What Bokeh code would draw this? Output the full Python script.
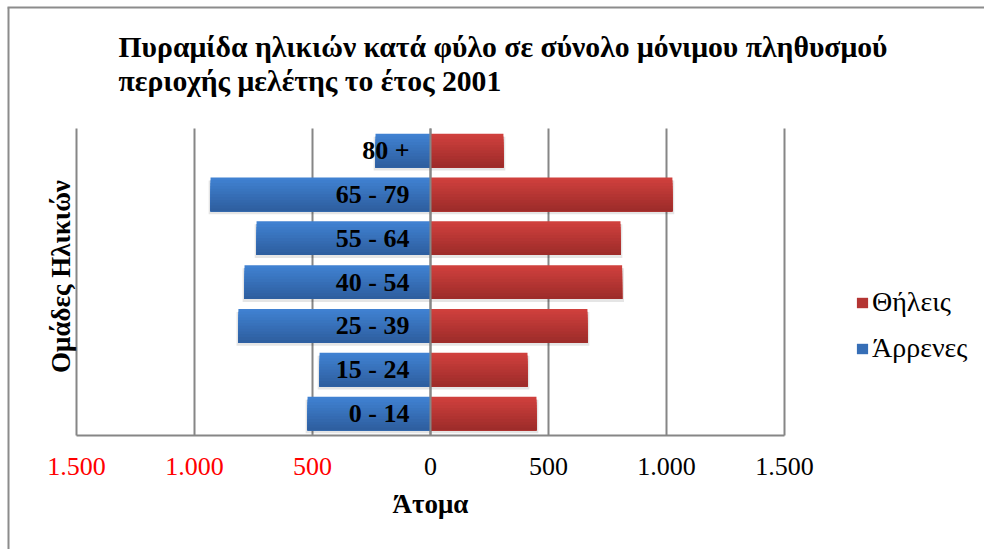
import math
from bokeh.plotting import figure
from bokeh.models import Legend, LegendItem, Range1d, BoxAnnotation
from bokeh.core.properties import value
from bokeh.embed import file_html
from bokeh.resources import INLINE

# ---- data ----
age_groups = ["0 - 14", "15 - 24", "25 - 39", "40 - 54", "55 - 64", "65 - 79", "80 +"]
males = [521, 470, 814, 788, 737, 932, 233]
females = [449, 411, 665, 812, 805, 1025, 309]
tick_values = [-1500, -1000, -500, 0, 500, 1000, 1500]
tick_labels = ["1.500", "1.000", "500", "0", "500", "1.000", "1.500"]
tick_colors = ["#FF0000", "#FF0000", "#FF0000", "#000000", "#000000", "#000000", "#000000"]
title_lines = ["Πυραμίδα ηλικιών κατά φύλο σε σύνολο μόνιμου πληθυσμού",
               "περιοχής μελέτης το έτος 2001"]
x_title = "Άτομα"
y_title = "Ομάδες Ηλικιών"
series_names = ["Θήλεις", "Άρρενες"]

# ---- styling / layout ----
FONT = "Liberation Serif"
BLUE_TOP, BLUE_BOT = (0x40, 0x81, 0xD1), (0x2E, 0x5F, 0xA0)
RED_TOP, RED_BOT = (0xCF, 0x40, 0x3D), (0x9E, 0x2C, 0x2A)
GRID = "#868686"
W, H = 984, 549

# pixel <-> data helpers (canvas = frame)
X0_PX = 430.0                 # pixel column of value 0
PX_PER_UNIT = 354.0 / 1500.0  # horizontal scale
CAT0_ROW = 413.0              # pixel row of first category centre
PITCH = 43.83                 # pixels per category


def dx(px):
    return (px - X0_PX) / PX_PER_UNIT


def dy(row):
    return (CAT0_ROW - row) / PITCH


n = len(age_groups)
pos = list(range(n))
y_lo, y_hi = -0.5, n - 0.5
x_lo, x_hi = tick_values[0], tick_values[-1]

p = figure(width=W, height=H, x_range=Range1d(dx(0), dx(W)), y_range=Range1d(dy(H), dy(0)),
           output_backend="svg", toolbar_location=None,
           min_border=0, min_border_left=0, min_border_right=0,
           min_border_top=0, min_border_bottom=0)
p.xaxis.visible = False
p.yaxis.visible = False
p.xgrid.visible = False
p.ygrid.visible = False
p.outline_line_color = None
p.background_fill_color = "white"
p.border_fill_color = "white"

# chart border (top + left)
p.segment(x0=[dx(8), dx(7)], x1=[dx(8), dx(W)], y0=[dy(H), dy(7)], y1=[dy(7), dy(7)],
          line_color="#8C8C8C", line_width=2)

# title
p.text(x=[dx(118)] * 2, y=[dy(46), dy(80)], text=title_lines,
       text_align="left", text_baseline="middle", text_font=value(FONT),
       text_font_size="29.7px", text_font_style="bold", text_color="black")

# vertical gridlines and bottom axis line
p.segment(x0=tick_values, x1=tick_values, y0=[y_lo] * len(tick_values), y1=[y_hi] * len(tick_values),
          line_color=GRID, line_width=2)
p.segment(x0=[x_lo], x1=[x_hi], y0=[y_lo], y1=[y_lo], line_color=GRID, line_width=2)

# bars with vertical gradient (overlapping layers, darker towards the bottom)
BAR_H = 0.77
K = 12
m_left = [-v for v in males]
zeros = [0] * n
shadow_dy = 3 / PITCH

p.hbar(y=[v - shadow_dy for v in pos], left=[v - 8 for v in m_left], right=[f + 8 for f in females],
       height=BAR_H, fill_color="#000000", fill_alpha=0.10, line_color=None)


def mix(a, b, t):
    return "#%02X%02X%02X" % tuple(round(a[i] + (b[i] - a[i]) * t) for i in range(3))


rm = rf = None
for k in range(K):
    t = k / (K - 1)
    hk = BAR_H * (K - k) / K
    ys = [v - BAR_H / 2 + hk / 2 for v in pos]
    r1 = p.hbar(y=ys, left=m_left, right=zeros, height=hk,
                fill_color=mix(BLUE_TOP, BLUE_BOT, t), line_color=None)
    r2 = p.hbar(y=ys, left=zeros, right=females, height=hk,
                fill_color=mix(RED_TOP, RED_BOT, t), line_color=None)
    if k == K // 2:
        rm, rf = r1, r2

# zero axis line
p.segment(x0=[0], x1=[0], y0=[y_lo], y1=[y_hi], line_color=GRID, line_width=2)

# category labels inside blue bars
p.text(x=zeros, y=pos, text=age_groups, x_offset=-21,
       text_align="right", text_baseline="middle",
       text_font=value(FONT), text_font_size="26px", text_font_style="bold",
       text_color="black")

# coloured tick labels
p.text(x=tick_values, y=[dy(466)] * len(tick_values), text=tick_labels, text_color=tick_colors,
       text_align="center", text_baseline="middle",
       text_font=value(FONT), text_font_size="26px")

# axis titles
p.text(x=[0], y=[dy(503)], text=[x_title], text_align="center", text_baseline="middle",
       text_font=value(FONT), text_font_size="27px", text_font_style="bold", text_color="black")
p.text(x=[dx(60)], y=[dy(276)], text=[y_title], angle=math.pi / 2,
       text_align="center", text_baseline="middle",
       text_font=value(FONT), text_font_size="27px", text_font_style="bold", text_color="black")

# legend
legend = Legend(items=[LegendItem(label=series_names[0], renderers=[rf]),
                       LegendItem(label=series_names[1], renderers=[rm])],
                location=(855, 185))
legend.glyph_width = 14
legend.glyph_height = 13
legend.label_height = 28
legend.label_standoff = 3
legend.spacing = 14
legend.padding = 0
legend.margin = 0
legend.border_line_color = None
legend.background_fill_alpha = 0
legend.label_text_font = FONT
legend.label_text_font_size = "28px"
legend.label_text_color = "black"
p.add_layout(legend, "center")

# keep the right edge clean
p.add_layout(BoxAnnotation(left=dx(W - 8), right=dx(W), bottom=dy(H), top=dy(9),
                           fill_color="white", fill_alpha=1.0, line_color=None, level="overlay"))

open("out.html", "w").write(file_html(p, INLINE))
